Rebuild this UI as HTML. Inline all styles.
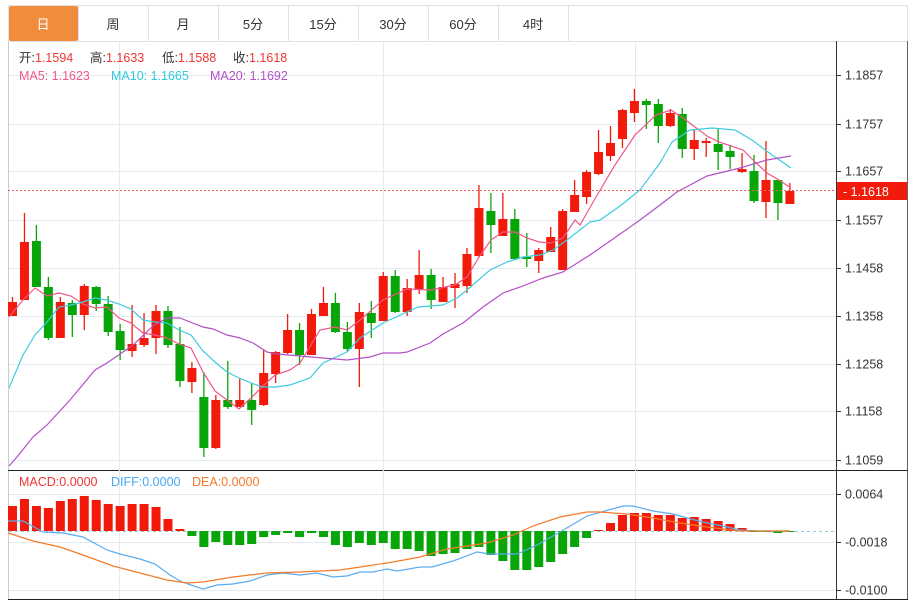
<!DOCTYPE html>
<html><head><meta charset="utf-8">
<style>
html,body{margin:0;padding:0;background:#fff;}
body{width:915px;height:601px;overflow:hidden;font-family:"Liberation Sans","Noto Sans CJK SC",sans-serif;}
svg text{font-family:"Liberation Sans","Noto Sans CJK SC",sans-serif;}
</style></head><body>
<svg id="s" width="915" height="601" xmlns="http://www.w3.org/2000/svg">
<!-- tabs -->
<rect x="8.5" y="5.5" width="899" height="36" fill="#fff" stroke="#dfe3e8"/>
<rect x="9" y="6" width="69" height="35" fill="#f28c3d" rx="2"/>
<g stroke="#dfe3e8">
<line x1="78.5" y1="6" x2="78.5" y2="41"/><line x1="148.5" y1="6" x2="148.5" y2="41"/>
<line x1="218.5" y1="6" x2="218.5" y2="41"/><line x1="288.5" y1="6" x2="288.5" y2="41"/>
<line x1="358.5" y1="6" x2="358.5" y2="41"/><line x1="428.5" y1="6" x2="428.5" y2="41"/>
<line x1="498.5" y1="6" x2="498.5" y2="41"/><line x1="568.5" y1="6" x2="568.5" y2="41"/>
</g>
<g font-size="13" text-anchor="middle" fill="#333">
<text x="43" y="29" fill="#fff">日</text><text x="113" y="29">周</text><text x="183" y="29">月</text>
<text x="253" y="29">5分</text><text x="323" y="29">15分</text><text x="393" y="29">30分</text>
<text x="463" y="29">60分</text><text x="533" y="29">4时</text>
</g>
<!-- frame -->
<line x1="8.5" y1="41" x2="8.5" y2="600" stroke="#ccc"/>
<line x1="907.5" y1="41" x2="907.5" y2="600" stroke="#666"/>
<line x1="836.5" y1="41" x2="836.5" y2="600" stroke="#333"/>
<line x1="8" y1="470.5" x2="908" y2="470.5" stroke="#222"/>
<line x1="8" y1="599.5" x2="908" y2="599.5" stroke="#222"/>
<g id="grid" stroke="#e3eaf0"></g>
<g id="plot"></g>
<!-- header -->
<g font-size="12.5">
<text x="19" y="62" fill="#333">开:<tspan fill="#f03434">1.1594</tspan></text>
<text x="90" y="62" fill="#333">高:<tspan fill="#f03434">1.1633</tspan></text>
<text x="162" y="62" fill="#333">低:<tspan fill="#f03434">1.1588</tspan></text>
<text x="233" y="62" fill="#333">收:<tspan fill="#f03434">1.1618</tspan></text>
<text x="19" y="80" fill="#f0568a">MA5: 1.1623</text>
<text x="111" y="80" fill="#2ec8e0">MA10: 1.1665</text>
<text x="210" y="80" fill="#b44fc8">MA20: 1.1692</text>
<text x="19" y="486" fill="#f03434">MACD:0.0000</text>
<text x="111" y="486" fill="#4aa8f0">DIFF:0.0000</text>
<text x="192" y="486" fill="#f57a2a">DEA:0.0000</text>
</g>
<g id="axis" font-size="12.5" fill="#333"></g>
<line x1="8" y1="190.5" x2="836" y2="190.5" stroke="#f06060" stroke-dasharray="2,2"/>
<rect x="837" y="182" width="70" height="18" fill="#f21a0a"/>
<text x="843" y="196" font-size="12.5" fill="#fff">- 1.1618</text>
</svg>
<script>
var NS="http://www.w3.org/2000/svg",s=document.getElementById('s');
function el(p,t,a){var e=document.createElementNS(NS,t);for(var k in a)e.setAttribute(k,a[k]);p.appendChild(e);return e;}
var g=document.getElementById('grid'),pl=document.getElementById('plot'),ax=document.getElementById('axis');
var ys=[75,124,171,220,268,316,364,411,460],lb=["1.1857","1.1757","1.1657","1.1557","1.1458","1.1358","1.1258","1.1158","1.1059"];
ys.forEach(function(y,i){el(g,'line',{x1:9,y1:y+.5,x2:836,y2:y+.5});el(ax,'line',{x1:837,y1:y+.5,x2:841,y2:y+.5,stroke:'#333'});var t=el(ax,'text',{x:845,y:y+4.5});t.textContent=lb[i];});
var my=[494,542,590],ml=["0.0064","-0.0018","-0.0100"];
my.forEach(function(y,i){el(g,'line',{x1:9,y1:y+.5,x2:836,y2:y+.5});el(ax,'line',{x1:837,y1:y+.5,x2:841,y2:y+.5,stroke:'#333'});var t=el(ax,'text',{x:845,y:y+4.5});t.textContent=ml[i];});
[119,383,635].forEach(function(x){el(g,'line',{x1:x+.5,y1:42,x2:x+.5,y2:599});});
var R="#f21a0a",G="#08a508";
var C=[[302,316,297,316,R],[242,300,213,300,R],[241,287,225,287,G],[287,338,277,340,G],[302,338,297,338,R],[303,315,300,337,G],[286,315,284,330,R],[287,304,286,311,G],[304,332,296,336,G],[331,350,324,360,G],
[344,351,305,357,R],[338,345,313,347,R],[311,338,305,354,R],[311,345,306,348,G],[344,381,327,387,G],[368,382,362,393,R],[397,448,372,457,G],[400,448,395,449,R],[400,407,361,409,G],[400,407,379,407,R],
[400,410,383,425,G],[373,405,350,406,R],[352,374,351,383,R],[330,353,314,354,R],[330,355,323,365,G],[314,355,309,355,R],[303,316,287,316,R],[303,332,293,333,G],[332,349,322,352,G],[312,349,303,387,R],
[313,323,301,338,G],[276,321,272,321,R],[276,312,270,313,G],[288,312,279,316,R],[275,289,250,294,R],[275,300,269,309,G],[287,302,277,302,R],[284,288,273,308,R],[254,286,248,293,R],[208,256,185,257,R],
[211,225,193,253,G],[219,236,193,236,R],[219,259,209,259,G],[257,259,233,267,G],[250,261,248,273,R],[237,252,227,252,R],[211,270,209,270,R],[195,212,180,212,R],[172,197,170,204,R],[152,174,130,175,R],
[143,156,126,161,R],[110,139,109,148,R],[101,113,89,122,R],[101,105,99,129,G],[104,126,99,143,G],[113,126,109,127,R],[114,149,108,158,G],[140,149,129,160,R],[141,143,138,157,R],[144,152,128,170,G],
[151,157,145,169,G],[169,172,153,173,R],[171,201,155,203,G],[180,202,141,218,R],[180,203,180,220,G],[191,204,183,204,R]];
function X(i){return 12.5+i*11.96;}
function line(pts,c){el(pl,'polyline',{points:pts.map(function(p){return p.join(',')}).join(' '),fill:'none',stroke:c,'stroke-width':1.2});}
C.forEach(function(c,i){var x=X(i);el(pl,'line',{x1:x,y1:c[2],x2:x,y2:c[3],stroke:c[4],'stroke-width':1.3});el(pl,'rect',{x:x-4.5,y:c[0],width:9,height:Math.max(1.5,c[1]-c[0]),fill:c[4]});});
line([[9,317],[23,300],[35,288],[47,296],[59,293],[71,296],[83,304],[95,308],[107,307],[119,318],[131,323],[143,333],[155,335],[167,338],[179,344],[191,348],[203,372],[215,391],[227,400],[239,409],[251,398],[263,386],[275,375],[290,370],[300,363],[320,330],[335,327],[347,330],[359,321],[383,300],[407,289],[431,290],[455,285],[467,277],[479,257],[491,240],[503,232],[515,232],[527,238],[539,242],[551,243],[563,238],[575,220],[580,225],[596,197],[615,165],[635,135],[656,115],[671,110],[683,118],[695,127],[707,136],[719,142],[743,150],[755,162],[767,173],[779,180],[791,188]],"#f0568a");
line([[9,388],[23,355],[35,335],[47,322],[59,307],[71,305],[83,302],[95,298],[107,300],[119,304],[131,309],[143,320],[155,322],[167,323],[179,330],[191,335],[203,351],[215,362],[227,372],[239,378],[251,383],[263,387],[275,387],[290,385],[310,378],[323,363],[347,352],[360,338],[383,323],[418,307],[443,305],[457,298],[467,290],[490,270],[507,262],[523,257],[540,255],[553,250],[567,240],[590,222],[600,220],[620,206],[640,190],[660,163],[672,142],[690,130],[712,128],[735,130],[752,140],[772,155],[791,168]],"#3ecbe0");
line([[9,466],[17,457],[33,437],[47,425],[70,400],[95,370],[107,363],[133,345],[153,326],[167,318],[180,318],[190,322],[203,327],[213,329],[227,335],[240,338],[253,343],[267,352],[277,354],[300,356],[323,358],[347,360],[370,357],[383,353],[400,353],[407,352],[430,343],[443,334],[463,323],[483,307],[503,293],[523,286],[543,278],[563,272],[590,255],[623,232],[640,220],[660,205],[677,192],[707,176],[740,168],[767,160],[791,156]],"#b44fc8");
var M=[506,499,506,508,501,499,496,500,504,506,504,504,507,519,529,536,547,542,545,545,544,537,535,533,537,533,537,545,547,543,545,543,549,549,551,556,554,553,549,547,555,561,570,570,567,562,554,547,538,530,523,515,513,513,515,515,518,517,519,521,524,528,531,531,533,531.5];
el(pl,'line',{x1:9,y1:531.5,x2:836,y2:531.5,stroke:'#9cc8e0','stroke-dasharray':'3,3'});
M.forEach(function(v,i){var x=X(i);var up=v<531;el(pl,'rect',{x:x-4.5,y:up?v:531,width:9,height:Math.max(1,Math.abs(v-531)),fill:up?R:G});});
line([[8,521],[23,521],[43,532],[63,533],[83,537],[107,550],[120,554],[140,559],[155,564],[170,575],[182,582],[203,589],[217,585],[233,584],[250,581],[267,575],[283,573],[300,575],[317,573],[333,577],[347,576],[360,572],[373,572],[387,569],[397,571],[420,567],[432,567],[453,561],[477,552],[490,554],[517,554],[537,545],[560,532],[587,516],[623,506],[633,506],[653,511],[673,514],[687,518],[703,522],[727,527],[740,530],[757,531],[790,531]],"#5aacf0");
line([[8,533],[33,541],[60,547],[83,555],[113,566],[140,573],[167,580],[187,583],[203,582],[233,577],[267,573],[300,572],[340,570],[367,566],[393,562],[420,557],[447,549],[487,543],[513,535],[533,526],[560,517],[587,512],[600,512],[627,514],[653,518],[680,523],[707,527],[740,531],[790,531]],"#f57a2a");
</script>
</body></html>
